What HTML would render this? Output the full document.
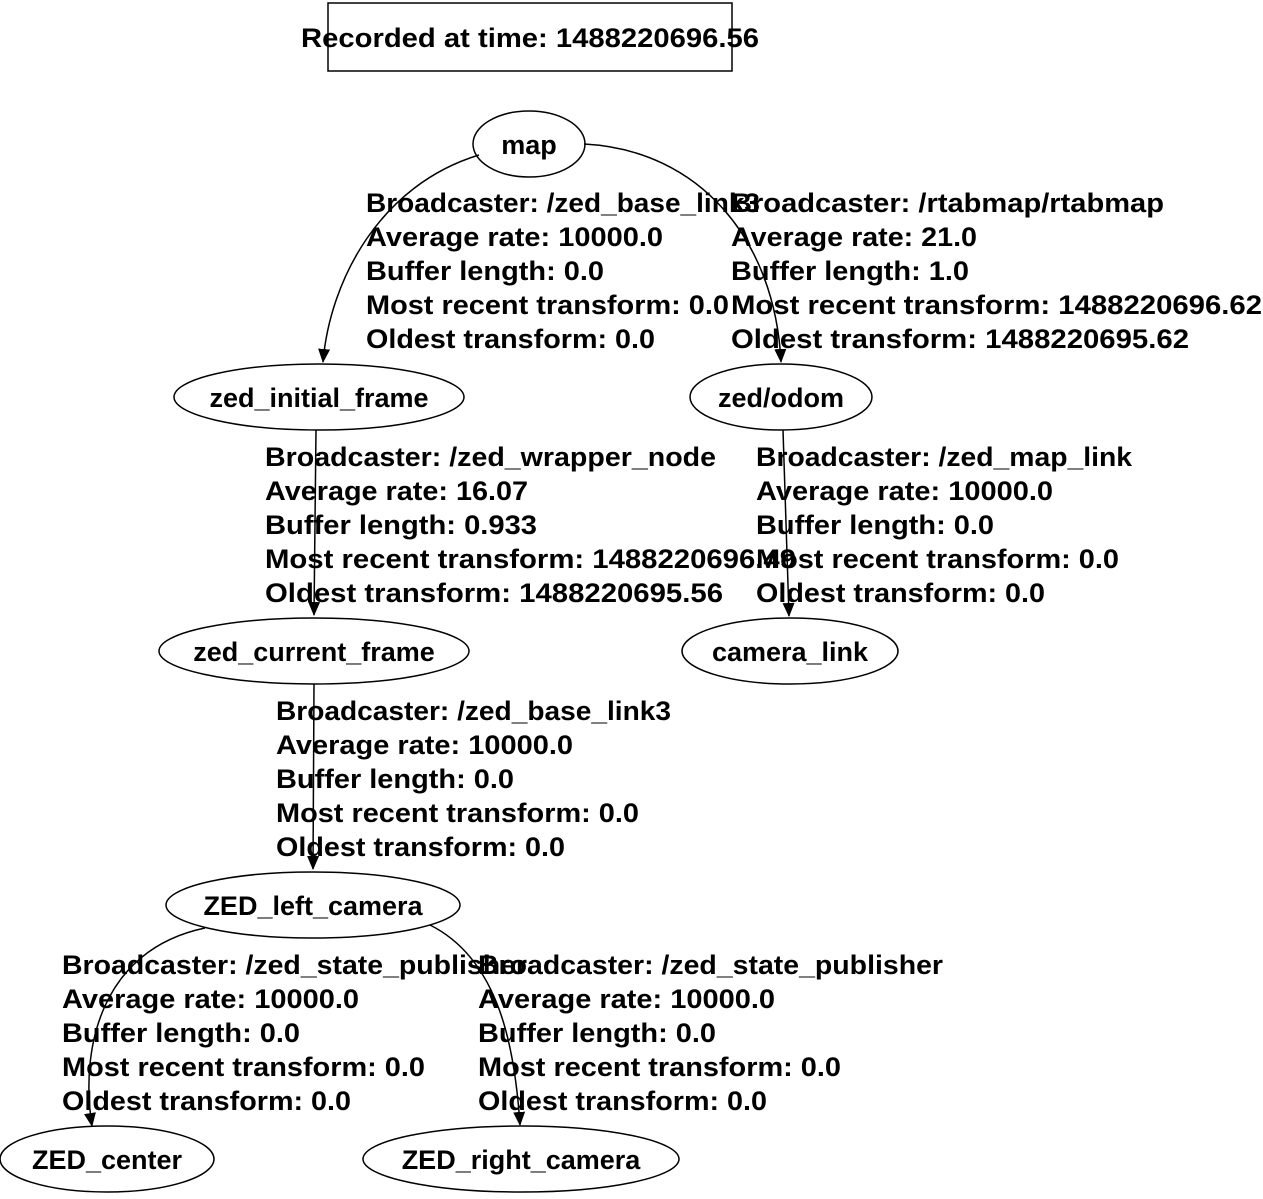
<!DOCTYPE html>
<html><head><meta charset="utf-8"><style>
html,body{margin:0;padding:0;background:#fff;}
svg text{font-family:"Liberation Sans","DejaVu Sans",sans-serif;font-size:27px;fill:#000;font-weight:bold;}
</style></head><body>
<svg width="1263" height="1194" viewBox="0 0 1263 1194" xmlns="http://www.w3.org/2000/svg">
<defs><marker id="a" markerWidth="14" markerHeight="12" refX="13" refY="6" orient="auto" markerUnits="userSpaceOnUse"><path d="M0,0 L14,6 L0,12 z" fill="#000"/></marker></defs>
<g fill="none" stroke="#000" stroke-width="1.5">
<rect x="328" y="3" width="404" height="68"/>
<ellipse cx="529" cy="144" rx="56" ry="33"/>
<ellipse cx="319" cy="397" rx="145" ry="33"/>
<ellipse cx="781" cy="397" rx="91" ry="33"/>
<ellipse cx="314" cy="651" rx="155" ry="33"/>
<ellipse cx="790" cy="651" rx="108" ry="33"/>
<ellipse cx="313" cy="905" rx="147" ry="33"/>
<ellipse cx="107" cy="1159" rx="107" ry="33"/>
<ellipse cx="521" cy="1159" rx="158" ry="33"/>
<path d="M479,155 C380,185 330,280 323,362" marker-end="url(#a)"/>
<path d="M584,144 C700,150 775,240 781,362" marker-end="url(#a)"/>
<path d="M316,430 L314,615" marker-end="url(#a)"/>
<path d="M783,430 L789,616" marker-end="url(#a)"/>
<path d="M314,684 L313,869" marker-end="url(#a)"/>
<path d="M205,928 C100,950 80,1050 92,1126" marker-end="url(#a)"/>
<path d="M430,925 C500,960 515,1050 520,1125" marker-end="url(#a)"/>
</g>
<g>
<text x="530" y="47" text-anchor="middle" textLength="458" lengthAdjust="spacingAndGlyphs">Recorded at time: 1488220696.56</text>
<text x="529" y="154" text-anchor="middle">map</text>
<text x="319" y="407" text-anchor="middle">zed_initial_frame</text>
<text x="781" y="407" text-anchor="middle">zed/odom</text>
<text x="314" y="661" text-anchor="middle">zed_current_frame</text>
<text x="790" y="661" text-anchor="middle">camera_link</text>
<text x="313" y="915" text-anchor="middle">ZED_left_camera</text>
<text x="107" y="1169" text-anchor="middle">ZED_center</text>
<text x="521" y="1169" text-anchor="middle">ZED_right_camera</text>
</g>
<g>
<text x="366" y="212" textLength="394" lengthAdjust="spacingAndGlyphs">Broadcaster: /zed_base_link3</text>
<text x="366" y="246" textLength="297" lengthAdjust="spacingAndGlyphs">Average rate: 10000.0</text>
<text x="366" y="280" textLength="238" lengthAdjust="spacingAndGlyphs">Buffer length: 0.0</text>
<text x="366" y="314" textLength="363" lengthAdjust="spacingAndGlyphs">Most recent transform: 0.0</text>
<text x="366" y="348" textLength="289" lengthAdjust="spacingAndGlyphs">Oldest transform: 0.0</text>

<text x="731" y="212" textLength="433" lengthAdjust="spacingAndGlyphs">Broadcaster: /rtabmap/rtabmap</text>
<text x="731" y="246" textLength="246" lengthAdjust="spacingAndGlyphs">Average rate: 21.0</text>
<text x="731" y="280" textLength="238" lengthAdjust="spacingAndGlyphs">Buffer length: 1.0</text>
<text x="731" y="314" textLength="531" lengthAdjust="spacingAndGlyphs">Most recent transform: 1488220696.62</text>
<text x="731" y="348" textLength="458" lengthAdjust="spacingAndGlyphs">Oldest transform: 1488220695.62</text>

<text x="265" y="466" textLength="451" lengthAdjust="spacingAndGlyphs">Broadcaster: /zed_wrapper_node</text>
<text x="265" y="500" textLength="263" lengthAdjust="spacingAndGlyphs">Average rate: 16.07</text>
<text x="265" y="534" textLength="272" lengthAdjust="spacingAndGlyphs">Buffer length: 0.933</text>
<text x="265" y="568" textLength="531" lengthAdjust="spacingAndGlyphs">Most recent transform: 1488220696.49</text>
<text x="265" y="602" textLength="458" lengthAdjust="spacingAndGlyphs">Oldest transform: 1488220695.56</text>

<text x="756" y="466" textLength="376" lengthAdjust="spacingAndGlyphs">Broadcaster: /zed_map_link</text>
<text x="756" y="500" textLength="297" lengthAdjust="spacingAndGlyphs">Average rate: 10000.0</text>
<text x="756" y="534" textLength="238" lengthAdjust="spacingAndGlyphs">Buffer length: 0.0</text>
<text x="756" y="568" textLength="363" lengthAdjust="spacingAndGlyphs">Most recent transform: 0.0</text>
<text x="756" y="602" textLength="289" lengthAdjust="spacingAndGlyphs">Oldest transform: 0.0</text>

<text x="276" y="720" textLength="395" lengthAdjust="spacingAndGlyphs">Broadcaster: /zed_base_link3</text>
<text x="276" y="754" textLength="297" lengthAdjust="spacingAndGlyphs">Average rate: 10000.0</text>
<text x="276" y="788" textLength="238" lengthAdjust="spacingAndGlyphs">Buffer length: 0.0</text>
<text x="276" y="822" textLength="363" lengthAdjust="spacingAndGlyphs">Most recent transform: 0.0</text>
<text x="276" y="856" textLength="289" lengthAdjust="spacingAndGlyphs">Oldest transform: 0.0</text>

<text x="62" y="974" textLength="465" lengthAdjust="spacingAndGlyphs">Broadcaster: /zed_state_publisher</text>
<text x="62" y="1008" textLength="297" lengthAdjust="spacingAndGlyphs">Average rate: 10000.0</text>
<text x="62" y="1042" textLength="238" lengthAdjust="spacingAndGlyphs">Buffer length: 0.0</text>
<text x="62" y="1076" textLength="363" lengthAdjust="spacingAndGlyphs">Most recent transform: 0.0</text>
<text x="62" y="1110" textLength="289" lengthAdjust="spacingAndGlyphs">Oldest transform: 0.0</text>

<text x="478" y="974" textLength="465" lengthAdjust="spacingAndGlyphs">Broadcaster: /zed_state_publisher</text>
<text x="478" y="1008" textLength="297" lengthAdjust="spacingAndGlyphs">Average rate: 10000.0</text>
<text x="478" y="1042" textLength="238" lengthAdjust="spacingAndGlyphs">Buffer length: 0.0</text>
<text x="478" y="1076" textLength="363" lengthAdjust="spacingAndGlyphs">Most recent transform: 0.0</text>
<text x="478" y="1110" textLength="289" lengthAdjust="spacingAndGlyphs">Oldest transform: 0.0</text>
</g>
</svg>
</body></html>
